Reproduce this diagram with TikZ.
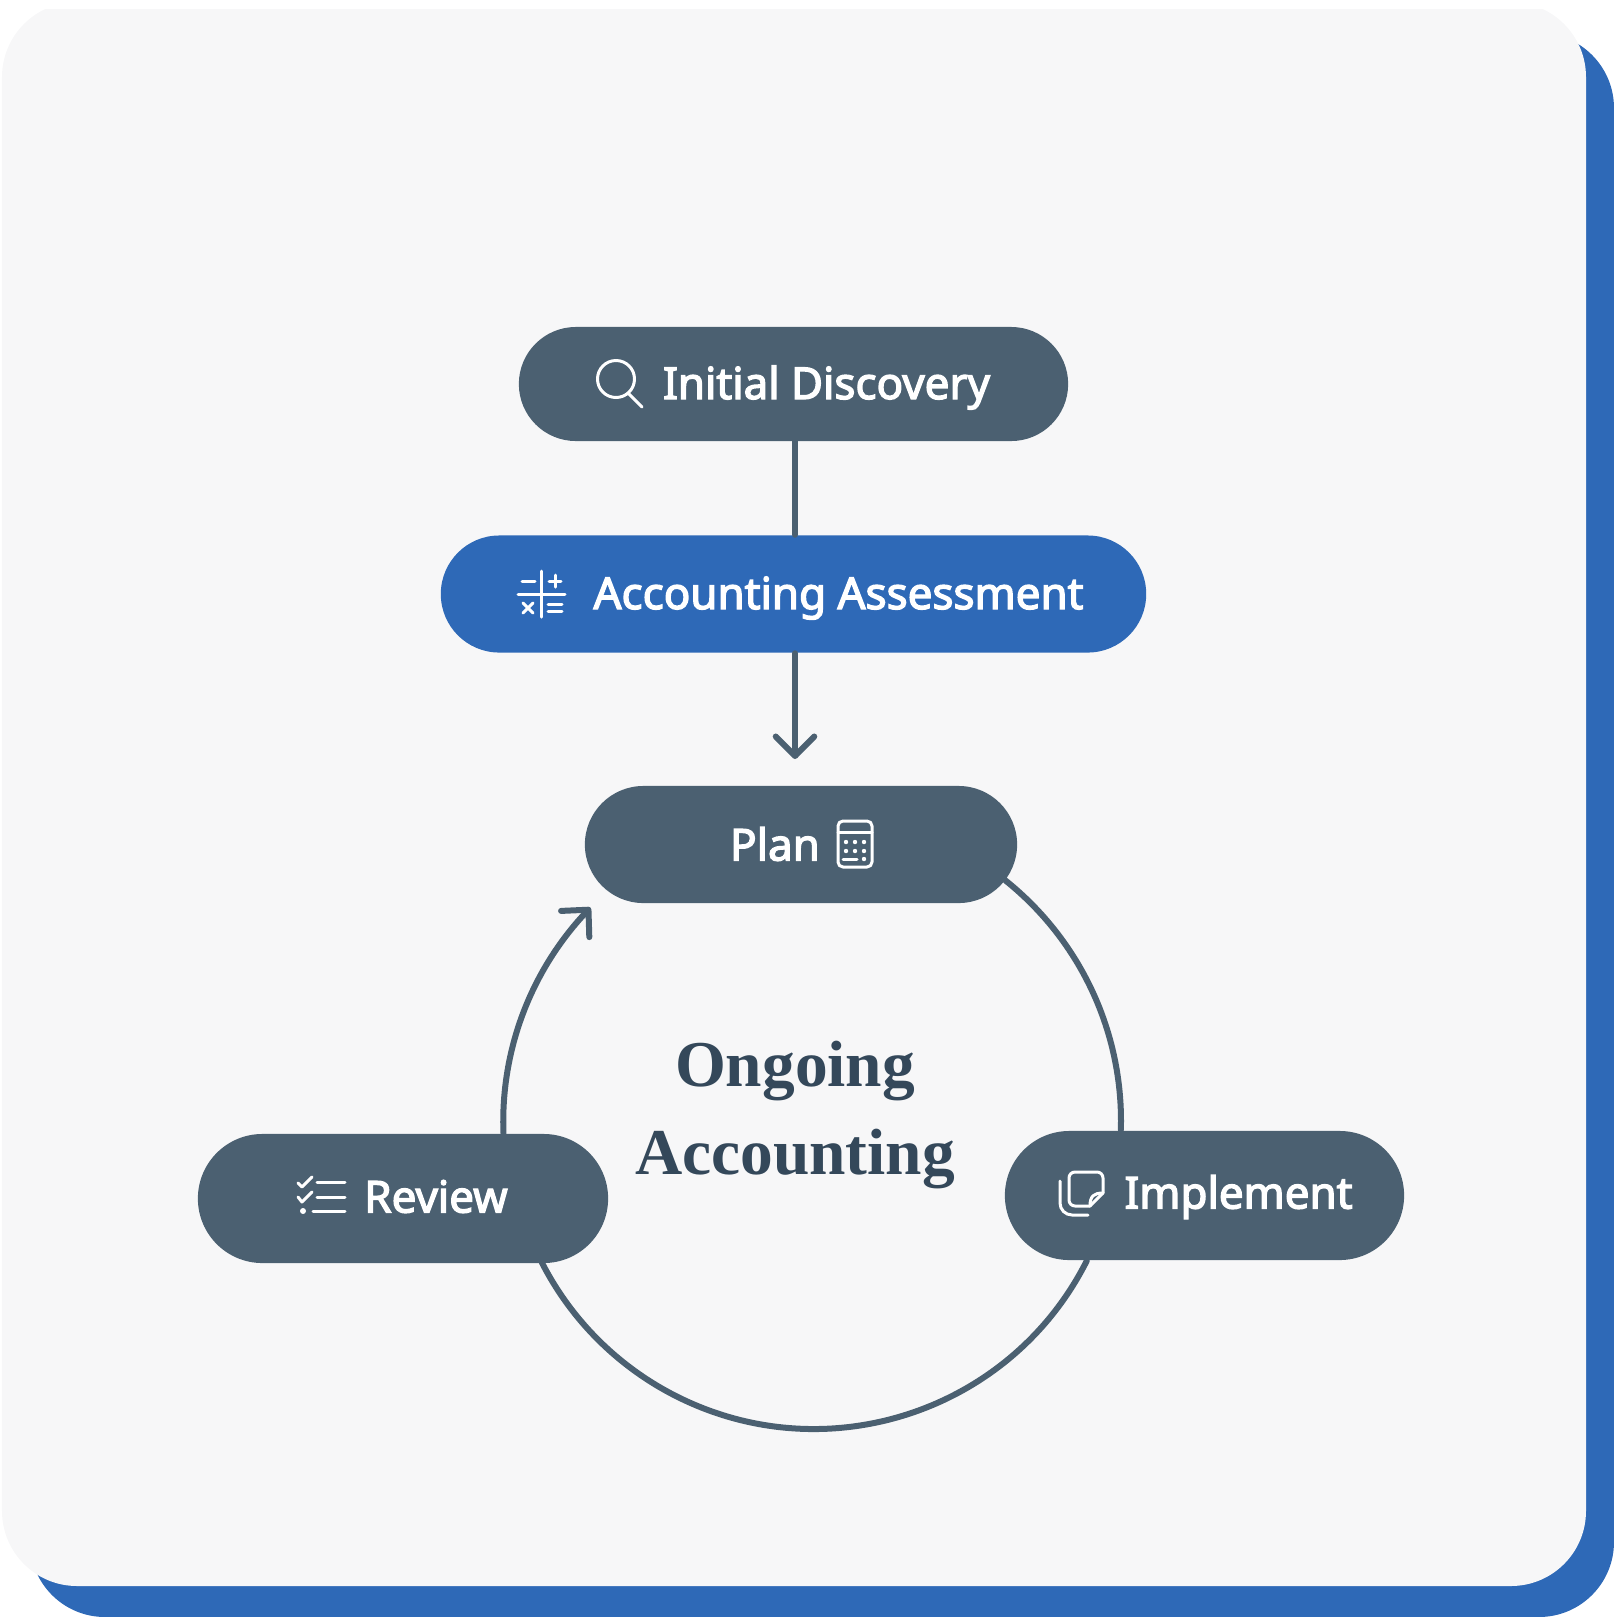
\documentclass[tikz,border=0pt]{standalone}
\usepackage{fontspec}
\usepackage{tikz}
\usetikzlibrary{positioning, arrows.meta, shapes.misc}
\setmainfont{Noto Sans}
\newfontfamily\pillfont[FakeBold=3]{Noto Sans}
\newfontfamily\headfont{Liberation Serif}
\definecolor{slatepill}{RGB}{75,96,113}
\definecolor{bluepill}{RGB}{46,105,183}
\definecolor{cardgrey}{RGB}{247,247,248}
\definecolor{headdark}{RGB}{52,72,90}
\tikzset{
	pill/.style={rounded rectangle, fill=slatepill, text=white, font=\pillfont\fontsize{12.5}{15}\selectfont, text height=0.34cm, text depth=0.04cm, inner sep=0pt},
	flow/.style={draw=slatepill, line width=0.06cm, line cap=round},
	tipped/.style={flow, -{Straight Barb[length=0.195cm, width=0.385cm, round]}},
	icon/.style={draw=white, line width=0.03cm, line cap=round, line join=round}
}

\begin{document}
\begin{tikzpicture}[x=0.01cm, y=0.01cm]
	\useasboundingbox (0,0) rectangle (1614,-1617);
	% card and its shadow, cut off along the top
	\begin{scope}
		\clip (0,-9) rectangle (1614,-1617);
		\fill[bluepill, rounded corners=0.75cm] (30,-33) rectangle (1614,-1617);
		\fill[cardgrey, rounded corners=0.75cm] (2,-2) rectangle (1586,-1586);
	\end{scope}

	% pills
	\node (discovery) at (793.5,-384) [pill, minimum width=5.49cm, minimum height=1.14cm] {\hspace*{0.66cm}Initial Discovery};
	\node (assessment) at (793.5,-594) [pill, fill=bluepill, minimum width=7.05cm, minimum height=1.17cm] {\hspace*{0.90cm}Accounting Assessment};
	\node (plan) at (801,-844.5) [pill, text depth=0.02cm, minimum width=4.32cm, minimum height=1.17cm] {Plan\hspace*{0.52cm}};
	\node (review) at (403,-1198.5) [pill, text depth=0.06cm, minimum width=4.10cm, minimum height=1.29cm] {\hspace*{0.66cm}Review};
	\node (implement) at (1204.5,-1195.5) [pill, text depth=0.08cm, minimum width=3.99cm, minimum height=1.29cm] {\hspace*{0.68cm}Implement};
	\node (ongoing) at (795,-1115) [align=center, text=headdark, font=\headfont\bfseries\fontsize{18.6}{25.2}\selectfont] {Ongoing\\Accounting};

	% connectors
	\coordinate (tipA) at (795,-759);
	\coordinate (tipB) at (590.5,-907.5);
	\draw[flow] (tipA |- discovery.south) -- (tipA |- assessment.north);
	\draw[tipped] (tipA |- assessment.south) -- (tipA);
	\draw[flow] (plan.-10.4) arc[start angle=51.3, end angle=-1.7, radius=308];
	\draw[flow] (implement.209.6) arc[start angle=-26.7, end angle=-153, radius=305.5];
	\draw[tipped] (review.33.1) arc[start angle=182.2, end angle=138.4, radius=306] -- (tipB);

	% magnifier
	\draw[icon] (616,-379) circle (18.5);
	\draw[icon] (628,-393) -- (642,-407);

	% plus minus times equals
	\draw[icon] (541,-571) -- (541,-617);
	\draw[icon] (518,-594) -- (565,-594);
	\draw[icon] (522,-581) -- (535,-581);
	\draw[icon] (549,-581) -- (561,-581);
	\draw[icon] (555,-575) -- (555,-587);
	\draw[icon] (523,-603) -- (533,-613);
	\draw[icon] (533,-603) -- (523,-613);
	\draw[icon] (548,-604) -- (562,-604);
	\draw[icon] (548,-611) -- (562,-611);

	% calculator
	\draw[icon, rounded corners=0.05cm] (838,-821) rectangle (872,-867);
	\draw[icon] (838,-832) -- (872,-832);
	\foreach \dotx in {846,855,864}
		\foreach \doty in {-842,-851}
			\fill[white] (\dotx,\doty) circle (2.2);
	\draw[icon] (843,-859) -- (857,-859);
	\fill[white] (864,-859) circle (2.2);

	% checklist
	\draw[icon] (298,-1183) -- (302,-1187) -- (312,-1177);
	\draw[icon] (298,-1197) -- (302,-1202) -- (312,-1192);
	\fill[white] (303,-1211) circle (3);
	\draw[icon] (317,-1182) -- (345,-1182);
	\draw[icon] (317,-1197) -- (345,-1197);
	\draw[icon] (313,-1211) -- (345,-1211);

	% sticky notes
	\draw[icon, rounded corners=0.06cm] (1090,-1206) -- (1069,-1206) -- (1069,-1172) -- (1103,-1172) -- (1103,-1193);
	\draw[icon] (1103,-1193) -- (1090,-1206);
	\draw[icon] (1103,-1193) .. controls (1094,-1193) and (1090,-1196) .. (1090,-1206);
	\draw[icon, rounded corners=0.12cm] (1060,-1181) -- (1060,-1215) -- (1088,-1215);
\end{tikzpicture}
\end{document}
